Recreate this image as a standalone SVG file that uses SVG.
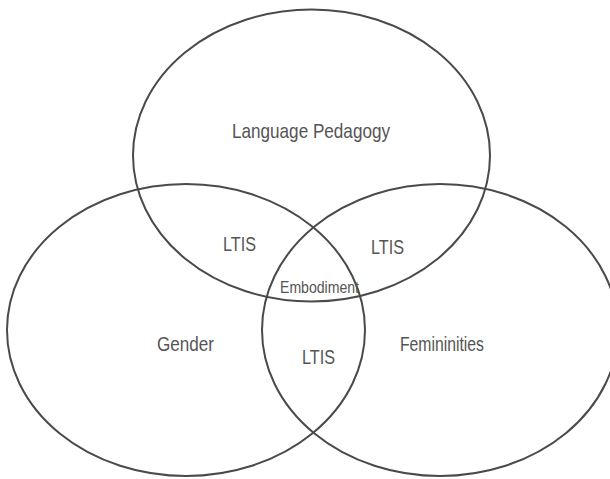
<svg xmlns="http://www.w3.org/2000/svg" width="610" height="479" viewBox="0 0 610 479">
<style>
.c{fill:none;stroke:#4a4a4a;stroke-width:2}
.t{font-family:"Liberation Sans",Arial,sans-serif;font-size:21px;fill:#555}
.s{font-size:16px}
</style>
<rect width="610" height="479" fill="#fff"/>
<g id="language-pedagogy">
<ellipse class="c" cx="311.5" cy="155.5" rx="178.5" ry="146"/>
<text class="t" x="232" y="138" textLength="158" lengthAdjust="spacingAndGlyphs">Language Pedagogy</text>
</g>
<g id="gender">
<ellipse class="c" cx="186" cy="330" rx="179" ry="146"/>
<text class="t" x="157" y="351" textLength="57" lengthAdjust="spacingAndGlyphs">Gender</text>
</g>
<g id="femininities">
<ellipse class="c" cx="440" cy="330" rx="178" ry="146"/>
<text class="t" x="400" y="351" textLength="84" lengthAdjust="spacingAndGlyphs">Femininities</text>
</g>
<g id="ltis-lp-gender"><text class="t" x="223" y="251" textLength="33" lengthAdjust="spacingAndGlyphs">LTIS</text></g>
<g id="ltis-lp-fem"><text class="t" x="371" y="254" textLength="33" lengthAdjust="spacingAndGlyphs">LTIS</text></g>
<g id="ltis-gender-fem"><text class="t" x="302" y="364" textLength="33" lengthAdjust="spacingAndGlyphs">LTIS</text></g>
<g id="embodiment"><text class="t s" x="280" y="293" textLength="79" lengthAdjust="spacingAndGlyphs">Embodiment</text></g>
<g id="connectors"></g>
</svg>
